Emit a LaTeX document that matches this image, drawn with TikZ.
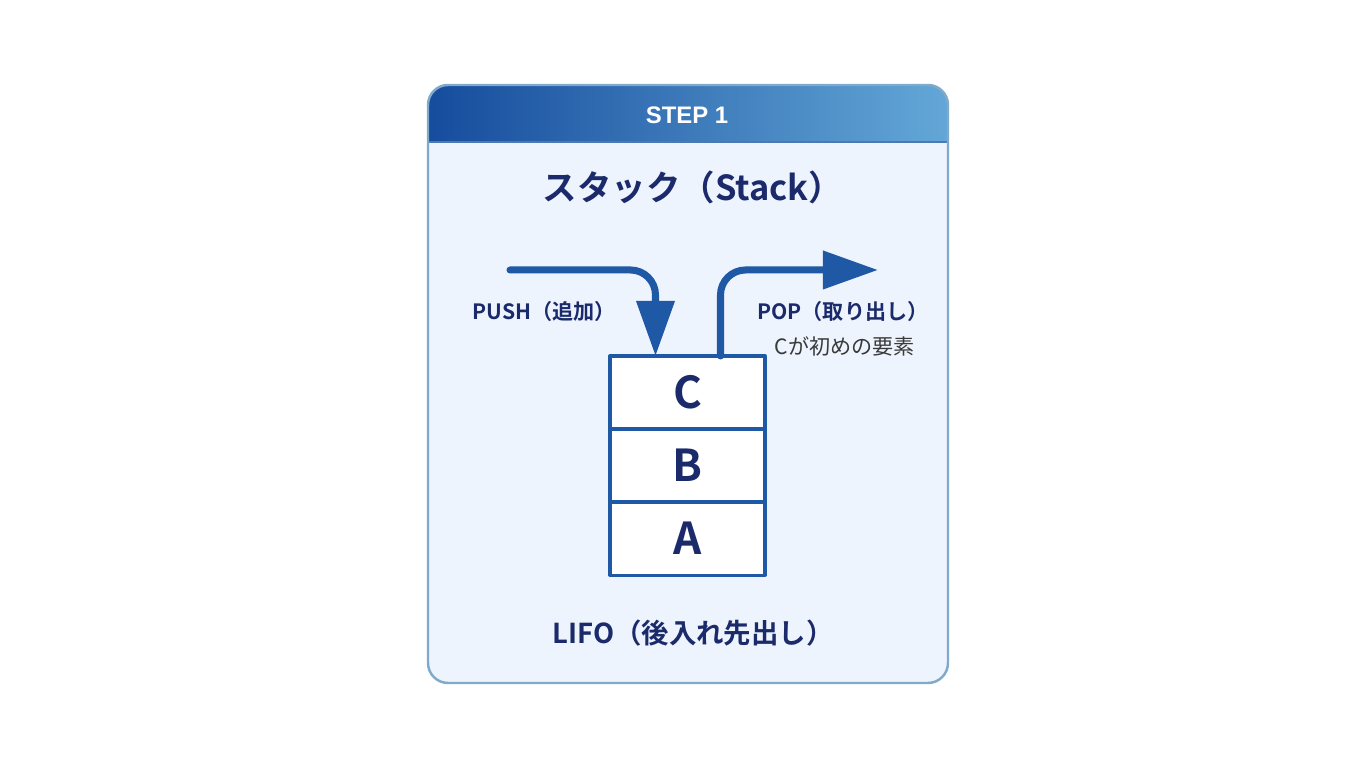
\documentclass[tikz,border=0pt]{standalone}
\usepackage{fontspec}
\setmainfont{Noto Sans CJK JP}[BoldFont={Noto Sans CJK JP Bold}]
\newfontfamily\stepfont{Liberation Sans}
\usetikzlibrary{positioning,calc,arrows.meta}
\definecolor{navy}{HTML}{1B2A6B}
\definecolor{stackblue}{HTML}{1F58A4}
\definecolor{cardbg}{HTML}{EEF4FD}
\definecolor{cardline}{HTML}{7FAACB}
\definecolor{headl}{HTML}{164C9D}
\definecolor{headr}{HTML}{63A7D7}
\definecolor{notegray}{HTML}{3A3A3A}

\begin{document}
\begin{tikzpicture}[x=0.01cm,y=-0.01cm,line join=round,line cap=round,
	cell/.style={draw=stackblue,line width=0.9pt,fill=white,minimum width=1.55cm,minimum height=0.73cm,inner sep=0pt,outer sep=0pt,text=navy,font=\bfseries\fontsize{12.5}{14}\selectfont},
	flow/.style={draw=stackblue,line width=2pt,rounded corners=0.25cm,-{Triangle[length=0.55cm,width=0.37cm]}},
	lbl/.style={text=navy,font=\bfseries\fontsize{6}{7}\selectfont}]
	\useasboundingbox (0,0) rectangle (1365,768);
	\fill[white] (0,0) rectangle (1365,768);

	% card
	\begin{scope}
		\clip[rounded corners=0.2cm] (428,85) rectangle (948,683);
		\fill[cardbg] (428,85) rectangle (948,683);
		\shade[left color=headl,right color=headr] (428,85) rectangle (948,142);
		\draw[stackblue!80,line width=0.5pt] (428,142)--(948,142);
	\end{scope}
	\draw[cardline,line width=0.7pt,rounded corners=0.2cm] (428,85) rectangle (948,683);

	\node[text=white,font=\stepfont\bfseries\fontsize{6.8}{8}\selectfont] (step) at (687,115) {STEP 1};
	\node[text=navy,font=\bfseries\fontsize{9.8}{12}\selectfont] (title) at (693,187) {スタック（Stack）};

	% stack
	\node[cell] (c) at (687.5,392.5) {C};
	\node[cell,below=0pt of c] (b) {B};
	\node[cell,below=0pt of b] (a) {A};

	\coordinate (pushin) at (510,270);
	\coordinate (popout) at (878,270);
	\draw[flow] (pushin) -| ($(c.north)+(-32,0)$);
	\draw[flow] ($(c.north)+(33,0)$) |- (popout);

	\node[lbl] (pushlbl) at (544,311) {PUSH（追加）};
	\node[lbl] (poplbl) at (843,311) {POP（取り出し）};
	\node[text=notegray,font=\fontsize{6}{7}\selectfont] (note) at (845,346) {Cが初めの要素};

	\node[text=navy,font=\bfseries\fontsize{7.8}{9}\selectfont] (lifo) at (693,633) {LIFO（後入れ先出し）};
\end{tikzpicture}
\end{document}
